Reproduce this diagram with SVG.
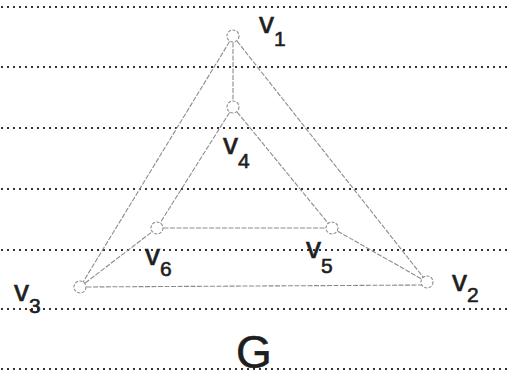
<svg xmlns="http://www.w3.org/2000/svg" width="510" height="383" viewBox="0 0 510 383">
<defs>
<pattern id="dots" x="1" y="0" width="6" height="2" patternUnits="userSpaceOnUse"><rect width="2" height="2" fill="#333"/></pattern>
</defs>
<style>
.rule{stroke:#333;stroke-width:2;stroke-dasharray:2 4;fill:none}
.edge{stroke:#8c8c8c;stroke-width:1.1;stroke-dasharray:5 1.5;fill:none}
.node{fill:#fff;stroke:#8c8c8c;stroke-width:1.1;stroke-dasharray:3 1.5}
.lbl{font-family:"Liberation Sans",sans-serif;font-size:30px;fill:#1e1e1e;stroke:#1e1e1e;stroke-width:0.6}
.sub{font-size:21px}
</style>
<rect width="510" height="383" fill="#fff"/>
<g id="paper">
<line class="rule" x1="1" y1="7" x2="510" y2="7"/>
<line class="rule" x1="1" y1="67" x2="510" y2="67"/>
<line class="rule" x1="1" y1="128" x2="510" y2="128"/>
<line class="rule" x1="1" y1="189" x2="510" y2="189"/>
<line class="rule" x1="1" y1="250" x2="510" y2="250"/>
<line class="rule" x1="1" y1="309" x2="510" y2="309"/>
<line class="rule" x1="1" y1="369" x2="510" y2="369"/>
</g>
<g id="connectors">
<line class="edge" x1="233" y1="36" x2="80" y2="287"/>
<line class="edge" x1="233" y1="36" x2="427" y2="282"/>
<line class="edge" x1="233" y1="36" x2="233" y2="107"/>
<line class="edge" x1="233" y1="107" x2="157" y2="228"/>
<line class="edge" x1="233" y1="107" x2="332" y2="228"/>
<line class="edge" x1="157" y1="228" x2="332" y2="228"/>
<line class="edge" x1="80" y1="287" x2="427" y2="285"/>
<line class="edge" x1="80" y1="287" x2="157" y2="228"/>
<line class="edge" x1="332" y1="228" x2="427" y2="282"/>
</g>
<g id="v1"><circle class="node" cx="233" cy="36" r="6"/><text class="lbl" x="259" y="33">v<tspan class="sub" dy="13">1</tspan></text></g>
<g id="v4"><circle class="node" cx="233" cy="107" r="6"/><text class="lbl" x="223" y="154">v<tspan class="sub" dy="14">4</tspan></text></g>
<g id="v6"><circle class="node" cx="157" cy="228" r="6"/><text class="lbl" x="145" y="265">v<tspan class="sub" dy="11">6</tspan></text></g>
<g id="v5"><circle class="node" cx="332" cy="228" r="6"/><text class="lbl" x="306" y="258">v<tspan class="sub" dy="15">5</tspan></text></g>
<g id="v3"><circle class="node" cx="80" cy="287" r="6"/><text class="lbl" x="14" y="301">v<tspan class="sub" dy="12">3</tspan></text></g>
<g id="v2"><circle class="node" cx="427" cy="282" r="6"/><text class="lbl" x="452" y="291">v<tspan class="sub" dy="11">2</tspan></text></g>
<g id="G"><text class="lbl" x="236" y="368" style="font-size:46px">G</text></g>
</svg>
